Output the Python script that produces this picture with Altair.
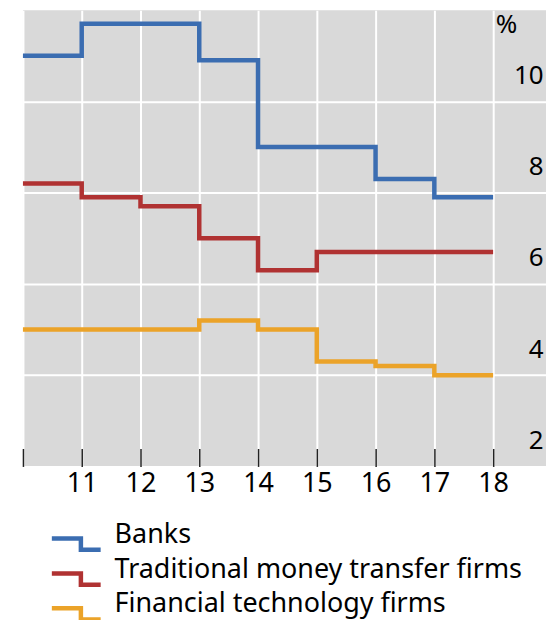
import altair as alt
import pandas as pd

years = [10, 11, 12, 13, 14, 15, 16, 17, 18]
banks = [11.0, 11.7, 11.7, 10.9, 9.0, 9.0, 8.3, 7.9, 7.9]
mto = [8.2, 7.9, 7.7, 7.0, 6.3, 6.7, 6.7, 6.7, 6.7]
fintech = [5.0, 5.0, 5.0, 5.2, 5.0, 4.3, 4.2, 4.0, 4.0]
series = ["Banks", "Traditional money transfer firms", "Financial technology firms"]
colors = ["#3b6db1", "#b03232", "#eba329"]
x_ticks = [10, 11, 12, 13, 14, 15, 16, 17, 18]
y_ticks = [2, 4, 6, 8, 10]

rows = []
for name, vals in zip(series, [banks, mto, fintech]):
    for yr, v in zip(years, vals):
        rows.append({"year": yr, "value": v, "series": name})
df = pd.DataFrame(rows)

FONT = "Noto Sans"
step_symbol = "M-1,0.16H0.19V0.62H1"

chart = alt.Chart(df).mark_line(
    interpolate="step-after", strokeWidth=4.5, strokeJoin="miter", strokeCap="butt"
).encode(
    x=alt.X(
        "year:Q",
        scale=alt.Scale(domain=[10, 18.9], nice=False, zero=False),
        axis=alt.Axis(
            values=x_ticks, title=None, grid=True, gridColor="white", gridWidth=2,
            domain=False, ticks=True, tickSize=18, tickColor="#222222", tickWidth=1.5,
            offset=-18, labelExpr="datum.value == 10 ? '' : datum.label",
            labelFontSize=27, labelFont=FONT, labelColor="black",
            labelBaseline="alphabetic", labelPadding=25, labelFlush=False,
        ),
    ),
    y=alt.Y(
        "value:Q",
        scale=alt.Scale(domain=[2, 12], nice=False, zero=False),
        axis=alt.Axis(
            orient="right", values=y_ticks, title="%", titleAngle=0, titleX=-51, titleY=22,
            titleAlign="left", titleBaseline="alphabetic", titleFontSize=26,
            titleFontWeight="normal", titleFont=FONT, titleColor="black",
            grid=True, gridColor="white", gridWidth=2, domain=False, ticks=False, tickSize=0,
            labelPadding=-3, labelAlign="right", labelBaseline="alphabetic", labelOffset=-18,
            labelFontSize=26, labelFont=FONT, labelColor="black",
        ),
    ),
    color=alt.Color(
        "series:N",
        scale=alt.Scale(domain=series, range=colors),
        sort=series,
        legend=alt.Legend(
            orient="none", legendX=26.5, legendY=509, title=None, direction="vertical",
            symbolType=step_symbol, symbolSize=2401, symbolStrokeWidth=4.5,
            symbolFillColor="transparent", labelFontSize=27, labelFont=FONT,
            labelColor="black", labelOffset=11.5, rowPadding=0, padding=0,
            clipHeight=35, labelLimit=600,
        ),
    ),
).properties(
    width=525, height=458,
    padding={"left": 15, "top": 1, "right": 0, "bottom": 153},
    autosize=alt.AutoSizeParams(type="none"),
).configure_view(fill="#d9d9d9", stroke=None)

chart.save("out.html", embed_options={"renderer": "svg", "actions": False})
